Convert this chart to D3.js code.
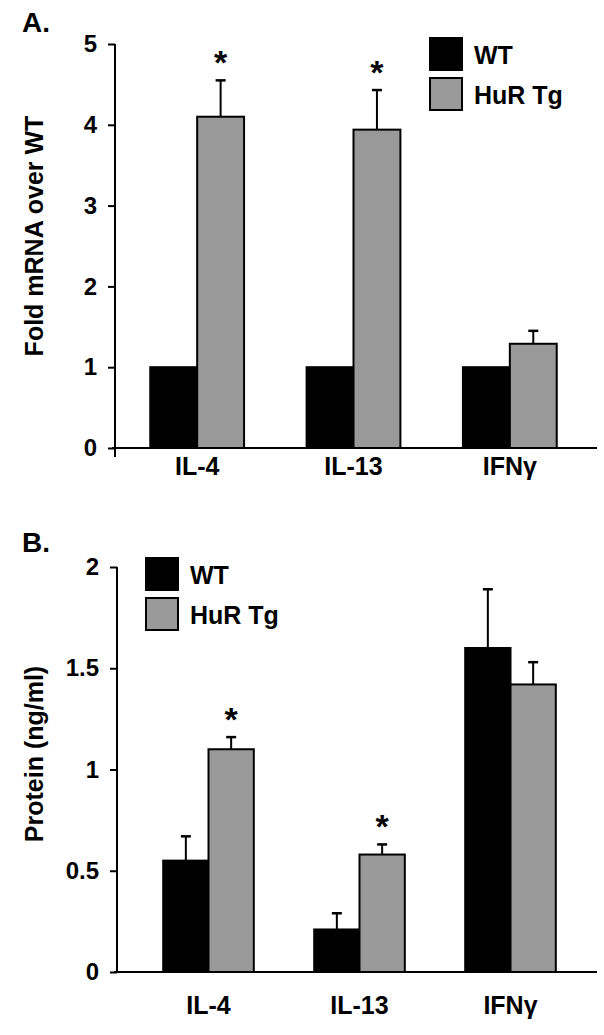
<!DOCTYPE html>
<html>
<head>
<meta charset="utf-8">
<script src="https://cdn.jsdelivr.net/npm/d3@7"></script>
<style>
  body { margin: 0; background: #fff; }
  text { font-family: "Liberation Sans", Arial, sans-serif; font-weight: bold; }
</style>
</head>
<body>
<svg></svg>
<script>
const categories = ["IL-4", "IL-13", "IFNγ"];
const series = ["WT", "HuR Tg"];

// panel A: fold mRNA over WT
const mrnaWT = [1, 1, 1];
const mrnaTg = [4.1, 3.94, 1.29];
const mrnaWTErr = [0, 0, 0];
const mrnaTgErr = [0.45, 0.49, 0.16];
const mrnaStars = [true, true, false];
const mrnaTicks = [0, 1, 2, 3, 4, 5];

// panel B: protein (ng/ml)
const protWT = [0.55, 0.21, 1.6];
const protTg = [1.1, 0.58, 1.42];
const protWTErr = [0.12, 0.08, 0.29];
const protTgErr = [0.06, 0.05, 0.11];
const protStars = [true, true, false];
const protTicks = [0, 0.5, 1, 1.5, 2];

const width = 604;
const height = 1035;
const colors = { "WT": "#000000", "HuR Tg": "#999999" };

const svg = d3.select("svg")
    .attr("width", width)
    .attr("height", height);

function drawPanel(opt) {
    const g = svg.append("g");

    const y = d3.scaleLinear()
        .domain([0, opt.ymax])
        .range([opt.y0, opt.ytop]);

    const x = d3.scaleBand()
        .domain(categories)
        .range(opt.xrange)
        .paddingInner(0.4)
        .paddingOuter(0.2);

    const xs = d3.scaleBand()
        .domain(series)
        .range([0, x.bandwidth()]);

    // y axis
    const yAxis = g.append("g")
        .attr("transform", `translate(${opt.axisX},0)`)
        .call(d3.axisLeft(y).tickValues(opt.ticks).tickSize(7).tickPadding(11)
            .tickFormat(d3.format("")));
    yAxis.select(".domain").remove();
    yAxis.selectAll(".tick line").attr("stroke", "#000").attr("stroke-width", 2);
    yAxis.selectAll(".tick text")
        .attr("fill", "#000")
        .style("font-size", "24px");

    g.append("line")
        .attr("x1", opt.axisX).attr("x2", opt.axisX)
        .attr("y1", y(opt.ymax)).attr("y2", y(0) + opt.below)
        .attr("stroke", "#000").attr("stroke-width", 2);

    const rows = categories.map((c, i) => ({
        cat: c,
        bars: [
            { s: "WT", v: opt.wt[i], e: opt.wtErr[i] },
            { s: "HuR Tg", v: opt.tg[i], e: opt.tgErr[i] }
        ],
        star: opt.stars[i]
    }));

    const groups = g.selectAll(".grp")
        .data(rows)
        .join("g")
        .attr("transform", d => `translate(${x(d.cat)},0)`);

    // error bars (upper only)
    groups.selectAll(".err")
        .data(d => d.bars.filter(b => b.e > 0))
        .join("g")
        .each(function(b) {
            const cx = xs(b.s) + xs.bandwidth() / 2;
            const sel = d3.select(this);
            sel.append("line")
                .attr("x1", cx).attr("x2", cx)
                .attr("y1", y(b.v)).attr("y2", y(b.v + b.e))
                .attr("stroke", "#000").attr("stroke-width", 2);
            sel.append("line")
                .attr("x1", cx - 5).attr("x2", cx + 5)
                .attr("y1", y(b.v + b.e)).attr("y2", y(b.v + b.e))
                .attr("stroke", "#000").attr("stroke-width", 2.5);
        });

    groups.selectAll("rect")
        .data(d => d.bars)
        .join("rect")
        .attr("x", b => xs(b.s))
        .attr("y", b => y(b.v))
        .attr("width", xs.bandwidth())
        .attr("height", b => y(0) - y(b.v))
        .attr("fill", b => colors[b.s])
        .attr("stroke", "#000")
        .attr("stroke-width", 2);

    // significance stars above HuR Tg bar
    groups.filter(d => d.star)
        .append("text")
        .attr("x", xs("HuR Tg") + xs.bandwidth() / 2)
        .attr("y", d => y(d.bars[1].v + d.bars[1].e) - 6)
        .attr("text-anchor", "middle")
        .style("font-size", "34px")
        .text("*");

    // x axis line
    g.append("line")
        .attr("x1", opt.axisX - 3).attr("x2", 597)
        .attr("y1", y(0)).attr("y2", y(0))
        .attr("stroke", "#000").attr("stroke-width", 2);

    g.selectAll(".cat")
        .data(categories)
        .join("text")
        .attr("x", d => x(d) + x.bandwidth() / 2)
        .attr("y", y(0) + opt.catDy)
        .attr("text-anchor", "middle")
        .style("font-size", "25px")
        .text(d => d);

    // axis title
    g.append("text")
        .attr("transform", `translate(43,${opt.titleY}) rotate(-90)`)
        .attr("text-anchor", "middle")
        .style("font-size", "25px")
        .text(opt.title);

    // panel letter
    g.append("text")
        .attr("x", 22)
        .attr("y", opt.letterY)
        .style("font-size", "28px")
        .text(opt.letter);

    // legend
    const leg = g.selectAll(".leg")
        .data(series)
        .join("g")
        .attr("transform", (d, i) => `translate(${opt.legX},${opt.legY + i * 40})`);
    leg.append("rect")
        .attr("width", 32).attr("height", 32)
        .attr("fill", d => colors[d])
        .attr("stroke", "#000").attr("stroke-width", 2);
    leg.append("text")
        .attr("x", 44).attr("y", 26)
        .style("font-size", "25px")
        .text(d => d);
}

drawPanel({
    letter: "A.", letterY: 32,
    title: "Fold mRNA over WT", titleY: 236,
    ymax: 5, y0: 448, ytop: 44, ticks: mrnaTicks,
    xrange: [119, 588], axisX: 115, below: 9, catDy: 27,
    wt: mrnaWT, tg: mrnaTg, wtErr: mrnaWTErr, tgErr: mrnaTgErr, stars: mrnaStars,
    legX: 430, legY: 38
});

drawPanel({
    letter: "B.", letterY: 552,
    title: "Protein (ng/ml)", titleY: 754,
    ymax: 2, y0: 972, ytop: 567, ticks: protTicks,
    xrange: [133, 586], axisX: 117, below: 0, catDy: 42,
    wt: protWT, tg: protTg, wtErr: protWTErr, tgErr: protTgErr, stars: protStars,
    legX: 146, legY: 558
});
</script>
</body>
</html>
